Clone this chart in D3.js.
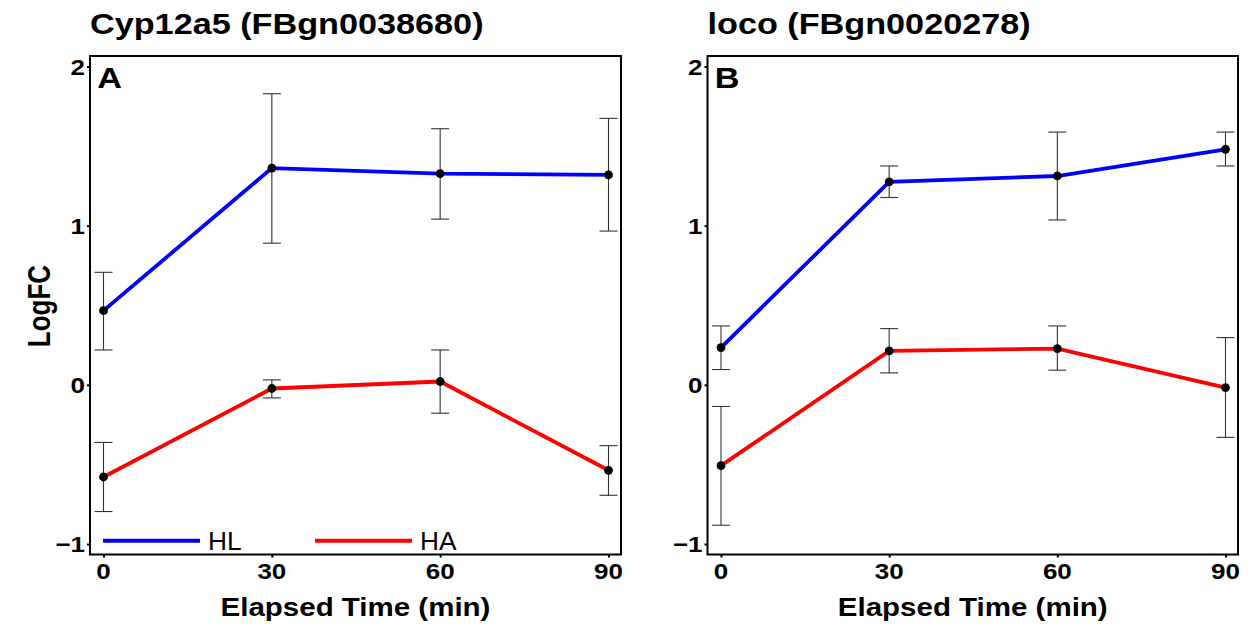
<!DOCTYPE html>
<html>
<head>
<meta charset="utf-8">
<script src="https://cdn.jsdelivr.net/npm/d3@7"></script>
<style>
  body { margin: 0; background: #fff; }
  svg { display: block; font-family: "Liberation Sans", Arial, sans-serif; }
</style>
</head>
<body>
<script>
// values
var timePoints = [0, 30, 60, 90];
var xTicks = [0, 30, 60, 90];
var yTicks = [-1, 0, 1, 2];
var seriesNames = ["HL", "HA"];

var cypHL = [0.466, 1.362, 1.327, 1.319];
var cypHLlow = [0.219, 0.890, 1.041, 0.966];
var cypHLhigh = [0.707, 1.829, 1.609, 1.674];
var cypHA = [-0.579, -0.023, 0.021, -0.537];
var cypHAlow = [-0.796, -0.082, -0.178, -0.694];
var cypHAhigh = [-0.362, 0.031, 0.219, -0.382];

var locoHL = [0.234, 1.275, 1.312, 1.480];
var locoHLlow = [0.096, 1.177, 1.036, 1.375];
var locoHLhigh = [0.370, 1.375, 1.588, 1.588];
var locoHA = [-0.508, 0.213, 0.228, -0.017];
var locoHAlow = [-0.882, 0.075, 0.092, -0.330];
var locoHAhigh = [-0.136, 0.353, 0.370, 0.297];

var width = 1248, height = 628;
var sx = 1.18; // text in the picture is a bit wide
var colors = {HL: "#0000ff", HA: "#ff0000"};

var svg = d3.select("body").append("svg")
    .attr("width", width)
    .attr("height", height);

function build(mean, low, high) {
  return timePoints.map(function (t, i) {
    return {t: t, v: mean[i], lo: low[i], hi: high[i]};
  });
}

var panels = [
  {title: "Cyp12a5 (FBgn0038680)", tag: "A", left: 90, right: 621, legend: true,
   series: {HL: build(cypHL, cypHLlow, cypHLhigh), HA: build(cypHA, cypHAlow, cypHAhigh)}},
  {title: "loco (FBgn0020278)", tag: "B", left: 707.5, right: 1238, legend: false,
   series: {HL: build(locoHL, locoHLlow, locoHLhigh), HA: build(locoHA, locoHAlow, locoHAhigh)}}
];

var plotTop = 56, plotBottom = 554.5;

// stretched text helper
function wideText(g, x, y, str, size, weight, anchor, k) {
  return g.append("text")
      .attr("transform", "translate(" + x + "," + y + ") scale(" + (k || sx) + ",1)")
      .attr("font-size", size)
      .attr("font-weight", weight)
      .attr("text-anchor", anchor)
      .attr("fill", "#000")
      .text(str);
}

panels.forEach(function (p) {
  var g = svg.append("g");

  var xScale = d3.scaleLinear().domain([0, 90]).range([p.left + 13.5, p.right - 12.5]);
  var yScale = d3.scaleLinear().domain([-1.066, 2.066]).range([plotBottom, plotTop]);

  // axes
  var yAxis = d3.axisLeft(yScale)
      .tickValues(yTicks)
      .tickSize(3)
      .tickFormat(function (d) { return d < 0 ? "\u2212" + Math.abs(d) : d; });
  var xAxis = d3.axisBottom(xScale)
      .tickValues(xTicks)
      .tickSize(3);

  var ya = g.append("g").attr("transform", "translate(" + p.left + ",0)").call(yAxis);
  var xa = g.append("g").attr("transform", "translate(0," + plotBottom + ")").call(xAxis);
  [ya, xa].forEach(function (a) {
    a.select(".domain").remove();
    a.selectAll("line").attr("stroke", "#000").attr("stroke-width", 2);
    a.selectAll("text").remove();
  });
  yTicks.forEach(function (d) {
    wideText(g, p.left - 5, yScale(d) + 8, yAxis.tickFormat()(d), 22, "bold", "end");
  });
  xTicks.forEach(function (d) {
    wideText(g, xScale(d), plotBottom + 24, d, 22, "bold", "middle");
  });

  // error bars
  seriesNames.forEach(function (s) {
    var eb = g.append("g").selectAll("g").data(p.series[s]).join("g")
        .attr("stroke", "#333").attr("stroke-width", 1.1);
    eb.append("line")
        .attr("x1", function (d) { return xScale(d.t); })
        .attr("x2", function (d) { return xScale(d.t); })
        .attr("y1", function (d) { return yScale(d.lo); })
        .attr("y2", function (d) { return yScale(d.hi); });
    ["lo", "hi"].forEach(function (k) {
      eb.append("line")
          .attr("x1", function (d) { return xScale(d.t) - 9; })
          .attr("x2", function (d) { return xScale(d.t) + 9; })
          .attr("y1", function (d) { return yScale(d[k]); })
          .attr("y2", function (d) { return yScale(d[k]); });
    });
  });

  // lines
  var line = d3.line()
      .x(function (d) { return xScale(d.t); })
      .y(function (d) { return yScale(d.v); });
  seriesNames.forEach(function (s) {
    g.append("path")
        .attr("fill", "none")
        .attr("stroke", colors[s])
        .attr("stroke-width", 3.8)
        .attr("d", line(p.series[s]));
  });
  seriesNames.forEach(function (s) {
    g.append("g").selectAll("circle").data(p.series[s]).join("circle")
        .attr("cx", function (d) { return xScale(d.t); })
        .attr("cy", function (d) { return yScale(d.v); })
        .attr("r", 4.4)
        .attr("fill", "#000");
  });

  // frame
  g.append("rect")
      .attr("x", p.left).attr("y", plotTop)
      .attr("width", p.right - p.left).attr("height", plotBottom - plotTop)
      .attr("fill", "none").attr("stroke", "#000").attr("stroke-width", 2);

  // labels
  wideText(g, p.left, 34, p.title, 29, "bold", "start");
  wideText(g, p.left + 7.3, 88, p.tag, 29, "bold", "start");
  wideText(g, (p.left + p.right) / 2, 616, "Elapsed Time (min)", 25, "bold", "middle");

  if (p.legend) {
    var ly = 540.7;
    var legendItems = [{name: "HL", x0: 103, x1: 200}, {name: "HA", x0: 315, x1: 412}];
    legendItems.forEach(function (it) {
      g.append("line")
          .attr("x1", it.x0).attr("x2", it.x1)
          .attr("y1", ly).attr("y2", ly)
          .attr("stroke", colors[it.name]).attr("stroke-width", 4);
      wideText(g, it.x1 + 8, ly + 9, it.name, 25, "normal", "start", 1.05);
    });
  }
});

// y axis title
svg.append("text")
    .attr("transform", "translate(50,306) scale(" + sx + ",1) rotate(-90)")
    .attr("font-size", 26)
    .attr("font-weight", "bold")
    .attr("text-anchor", "middle")
    .attr("fill", "#000")
    .text("LogFC");
</script>
</body>
</html>
